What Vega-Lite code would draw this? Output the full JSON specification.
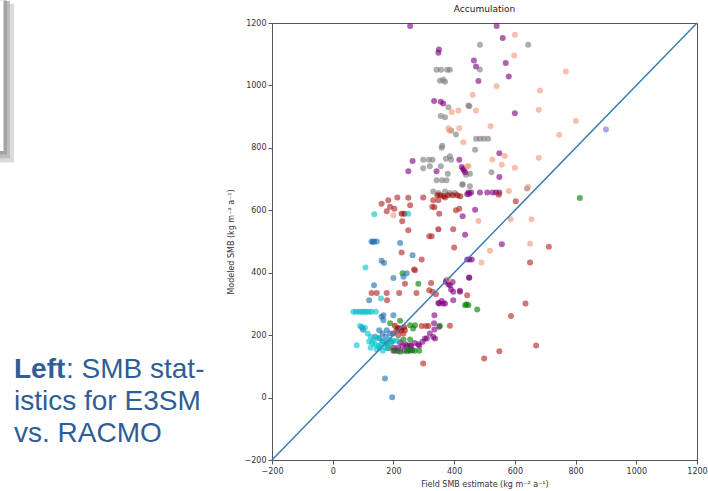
{
"$schema":"https://vega.github.io/schema/vega-lite/v6.json",
"padding":0,
"bounds":"flush",
"spacing":0,
"background":"white",
"config":{"view":{"stroke":null}},
"hconcat":[
{
"width":272,"height":437,
"layer":[
{"data":{"values":[{"item":"shadow"}]},"mark":{"type":"rect","fill":"#dadada"},
 "encoding":{"x":{"datum":0,"type":"quantitative","scale":{"domain":[0,272],"nice":false,"zero":false},"axis":null},"x2":{"datum":14},"y":{"datum":-10.7,"type":"quantitative","scale":{"domain":[-10.109,3.547],"reverse":true,"nice":false,"zero":false},"axis":null},"y2":{"datum":-5.75}}},
{"data":{"values":[{"item":"shadow"}]},"mark":{"type":"rect","fill":"#bdbdbd"},
 "encoding":{"x":{"datum":0,"type":"quantitative"},"x2":{"datum":10},"y":{"datum":-10.8,"type":"quantitative"},"y2":{"datum":-5.88}}},
{"data":{"values":[{"item":"box"}]},"mark":{"type":"rect","fill":"#a3a3a3"},
 "encoding":{"x":{"datum":0,"type":"quantitative"},"x2":{"datum":7},"y":{"datum":-10.812,"type":"quantitative"},"y2":{"datum":-6.0}}},
{"data":{"values":[{"item":"box"}]},"mark":{"type":"rect","fill":"white"},
 "encoding":{"x":{"datum":0,"type":"quantitative"},"x2":{"datum":3.5},"y":{"datum":-10.812,"type":"quantitative"},"y2":{"datum":-6.11}}},
{"data":{"values":[{"line":1,"text":"Left"}]},"mark":{"type":"text","align":"left","baseline":"alphabetic","font":"Liberation Sans","fontSize":28,"fontWeight":"bold","color":"#2f5d96"},
 "encoding":{"x":{"datum":14,"type":"quantitative"},"y":{"field":"line","type":"quantitative"},"text":{"field":"text"}}},
{"data":{"values":[{"line":1,"text":": SMB stat-"}]},"mark":{"type":"text","align":"left","baseline":"alphabetic","font":"Liberation Sans","fontSize":28,"color":"#2f5d96","dx":52},
 "encoding":{"x":{"datum":14,"type":"quantitative"},"y":{"field":"line","type":"quantitative"},"text":{"field":"text"}}},
{"data":{"values":[{"line":2,"text":"istics for E3SM"},{"line":3,"text":"vs. RACMO"}]},"mark":{"type":"text","align":"left","baseline":"alphabetic","font":"Liberation Sans","fontSize":28,"color":"#2f5d96"},
 "encoding":{"x":{"datum":14,"type":"quantitative"},"y":{"field":"line","type":"quantitative"},"text":{"field":"text"}}}
]
},
{
"width":425,"height":437,
"title":{"text":"Accumulation","fontSize":9,"font":"DejaVu Sans","fontWeight":"normal","color":"#222","offset":5},
"view":{"stroke":"#555","strokeWidth":1},
"layer":[
{"data":{"values":[
{"x":342,"y":1050,"g":"gray"},{"x":357,"y":1050,"g":"gray"},{"x":377,"y":1050,"g":"gray"},{"x":386,"y":1050,"g":"gray"},
{"x":353,"y":1015,"g":"gray"},{"x":370,"y":1012,"g":"gray"},{"x":364,"y":1018,"g":"gray"},
{"x":381,"y":930,"g":"gray"},{"x":450,"y":933,"g":"gray"},{"x":356,"y":902,"g":"gray"},{"x":370,"y":898,"g":"gray"},
{"x":390,"y":856,"g":"gray"},{"x":406,"y":843,"g":"gray"},{"x":359,"y":800,"g":"gray"},{"x":361,"y":807,"g":"gray"},
{"x":298,"y":762,"g":"gray"},{"x":317,"y":762,"g":"gray"},{"x":329,"y":762,"g":"gray"},{"x":298,"y":735,"g":"gray"},{"x":320,"y":741,"g":"gray"},
{"x":356,"y":741,"g":"gray"},{"x":373,"y":765,"g":"gray"},{"x":386,"y":773,"g":"gray"},{"x":390,"y":762,"g":"gray"},{"x":379,"y":717,"g":"gray"},
{"x":342,"y":696,"g":"gray"},{"x":360,"y":696,"g":"gray"},{"x":375,"y":696,"g":"gray"},{"x":452,"y":717,"g":"gray"},{"x":427,"y":683,"g":"gray"},
{"x":331,"y":660,"g":"gray"},{"x":348,"y":655,"g":"gray"},{"x":370,"y":660,"g":"gray"},{"x":386,"y":655,"g":"gray"},{"x":403,"y":655,"g":"gray"},
{"x":485,"y":1130,"g":"gray"},{"x":644,"y":1130,"g":"gray"},{"x":485,"y":1051,"g":"gray"},
{"x":472,"y":829,"g":"gray"},{"x":485,"y":829,"g":"gray"},{"x":498,"y":829,"g":"gray"},{"x":512,"y":829,"g":"gray"},
{"x":469,"y":794,"g":"gray"},{"x":439,"y":714,"g":"gray"},{"x":523,"y":722,"g":"gray"},{"x":428,"y":683,"g":"gray"},{"x":452,"y":677,"g":"gray"},{"x":640,"y":670,"g":"gray"},{"x":447,"y":936,"g":"gray"},
{"x":255,"y":1190,"g":"purple"},{"x":350,"y":1115,"g":"purple"},{"x":348,"y":1105,"g":"purple"},{"x":334,"y":950,"g":"purple"},{"x":356,"y":948,"g":"purple"},{"x":364,"y":942,"g":"purple"},
{"x":263,"y":758,"g":"purple"},{"x":249,"y":725,"g":"purple"},{"x":342,"y":725,"g":"purple"},{"x":417,"y":762,"g":"purple"},{"x":430,"y":733,"g":"purple"},{"x":436,"y":722,"g":"purple"},
{"x":540,"y":1190,"g":"purple"},{"x":560,"y":1152,"g":"purple"},{"x":465,"y":1080,"g":"purple"},{"x":472,"y":1061,"g":"purple"},{"x":570,"y":1072,"g":"purple"},{"x":480,"y":1014,"g":"purple"},{"x":580,"y":1029,"g":"purple"},
{"x":600,"y":911,"g":"purple"},{"x":549,"y":783,"g":"purple"},{"x":425,"y":739,"g":"purple"},{"x":432,"y":728,"g":"purple"},{"x":549,"y":707,"g":"purple"},
{"x":443,"y":651,"g":"purple"},{"x":450,"y":653,"g":"purple"},{"x":447,"y":657,"g":"purple"},{"x":456,"y":657,"g":"purple"},{"x":485,"y":657,"g":"purple"},{"x":509,"y":657,"g":"purple"},{"x":527,"y":657,"g":"purple"},{"x":538,"y":657,"g":"purple"},{"x":549,"y":657,"g":"purple"},
{"x":469,"y":602,"g":"purple"},{"x":428,"y":581,"g":"purple"},{"x":436,"y":522,"g":"purple"},{"x":557,"y":491,"g":"purple"},{"x":450,"y":442,"g":"purple"},{"x":458,"y":442,"g":"purple"},{"x":443,"y":442,"g":"purple"},{"x":450,"y":384,"g":"purple"},{"x":419,"y":342,"g":"purple"},
{"x":373,"y":371,"g":"purple"},{"x":386,"y":360,"g":"purple"},{"x":390,"y":346,"g":"purple"},{"x":397,"y":339,"g":"purple"},{"x":419,"y":339,"g":"purple"},{"x":375,"y":376,"g":"purple"},{"x":381,"y":363,"g":"purple"},{"x":395,"y":370,"g":"purple"},
{"x":359,"y":309,"g":"purple"},{"x":348,"y":303,"g":"purple"},{"x":364,"y":301,"g":"purple"},{"x":351,"y":301,"g":"purple"},{"x":370,"y":301,"g":"purple"},{"x":397,"y":312,"g":"purple"},{"x":449,"y":385,"g":"purple"},
{"x":334,"y":238,"g":"purple"},{"x":351,"y":227,"g":"purple"},{"x":335,"y":264,"g":"purple"},{"x":320,"y":205,"g":"purple"},{"x":331,"y":194,"g":"purple"},{"x":337,"y":189,"g":"purple"},{"x":304,"y":189,"g":"purple"},{"x":335,"y":218,"g":"purple"},{"x":310,"y":189,"g":"purple"},{"x":296,"y":179,"g":"purple"},{"x":282,"y":171,"g":"purple"},
{"x":222,"y":177,"g":"purple"},{"x":240,"y":170,"g":"purple"},{"x":255,"y":168,"g":"purple"},{"x":270,"y":175,"g":"purple"},{"x":285,"y":166,"g":"purple"},
{"x":200,"y":160,"g":"purple"},{"x":215,"y":160,"g":"purple"},{"x":230,"y":165,"g":"purple"},{"x":245,"y":165,"g":"purple"},{"x":258,"y":165,"g":"purple"},{"x":200,"y":150,"g":"purple"},{"x":215,"y":150,"g":"purple"},{"x":235,"y":150,"g":"purple"},{"x":262,"y":152,"g":"purple"},
{"x":230,"y":398,"g":"green"},{"x":282,"y":365,"g":"green"},{"x":441,"y":299,"g":"green"},{"x":447,"y":296,"g":"green"},{"x":436,"y":296,"g":"green"},{"x":476,"y":282,"g":"green"},{"x":814,"y":639,"g":"green"},
{"x":189,"y":238,"g":"green"},{"x":222,"y":246,"g":"green"},{"x":255,"y":232,"g":"green"},{"x":271,"y":232,"g":"green"},{"x":265,"y":221,"g":"green"},{"x":353,"y":230,"g":"green"},
{"x":178,"y":173,"g":"green"},{"x":183,"y":158,"g":"green"},{"x":233,"y":186,"g":"green"},{"x":255,"y":186,"g":"green"},
{"x":205,"y":150,"g":"green"},{"x":222,"y":147,"g":"green"},{"x":245,"y":148,"g":"green"},{"x":255,"y":150,"g":"green"},{"x":270,"y":150,"g":"green"},{"x":285,"y":150,"g":"green"},{"x":250,"y":153,"g":"green"},
{"x":161,"y":621,"g":"red"},{"x":183,"y":632,"g":"red"},{"x":213,"y":641,"g":"red"},{"x":249,"y":640,"g":"red"},{"x":255,"y":616,"g":"red"},{"x":178,"y":597,"g":"red"},{"x":203,"y":605,"g":"red"},{"x":189,"y":611,"g":"red"},
{"x":229,"y":565,"g":"red"},{"x":249,"y":536,"g":"red"},{"x":348,"y":539,"g":"darkred"},{"x":326,"y":517,"g":"red"},{"x":318,"y":517,"g":"red"},{"x":397,"y":539,"g":"red"},{"x":400,"y":481,"g":"red"},
{"x":227,"y":465,"g":"red"},{"x":293,"y":442,"g":"red"},{"x":268,"y":410,"g":"red"},{"x":331,"y":632,"g":"red"},{"x":335,"y":610,"g":"red"},{"x":406,"y":600,"g":"red"},{"x":417,"y":605,"g":"red"},
{"x":298,"y":641,"g":"red"},{"x":328,"y":611,"g":"red"},{"x":348,"y":632,"g":"red"},{"x":351,"y":589,"g":"red"},{"x":370,"y":641,"g":"red"},
{"x":547,"y":650,"g":"red"},{"x":603,"y":629,"g":"red"},{"x":650,"y":433,"g":"red"},{"x":712,"y":483,"g":"red"},{"x":443,"y":328,"g":"red"},{"x":635,"y":301,"g":"red"},{"x":587,"y":261,"g":"red"},{"x":670,"y":167,"g":"red"},{"x":549,"y":148,"g":"red"},{"x":499,"y":125,"g":"red"},
{"x":271,"y":408,"g":"red"},{"x":238,"y":365,"g":"red"},{"x":324,"y":367,"g":"red"},{"x":128,"y":335,"g":"red"},{"x":145,"y":335,"g":"red"},{"x":178,"y":335,"g":"red"},{"x":219,"y":335,"g":"red"},{"x":276,"y":335,"g":"red"},{"x":179,"y":312,"g":"red"},
{"x":318,"y":344,"g":"red"},{"x":329,"y":339,"g":"red"},{"x":340,"y":331,"g":"red"},{"x":386,"y":230,"g":"red"},{"x":293,"y":229,"g":"red"},{"x":307,"y":229,"g":"red"},{"x":315,"y":229,"g":"red"},
{"x":238,"y":216,"g":"red"},{"x":233,"y":205,"g":"red"},{"x":216,"y":200,"g":"red"},{"x":194,"y":179,"g":"red"},{"x":199,"y":205,"g":"red"},{"x":210,"y":215,"g":"red"},{"x":220,"y":222,"g":"red"},{"x":298,"y":109,"g":"red"},
{"x":345,"y":648,"g":"darkred"},{"x":355,"y":648,"g":"darkred"},{"x":365,"y":645,"g":"darkred"},{"x":380,"y":648,"g":"darkred"},{"x":395,"y":648,"g":"darkred"},{"x":410,"y":648,"g":"darkred"},{"x":420,"y":645,"g":"darkred"},
{"x":227,"y":589,"g":"darkred"},{"x":236,"y":589,"g":"darkred"},{"x":205,"y":230,"g":"darkred"},{"x":215,"y":222,"g":"darkred"},{"x":225,"y":215,"g":"darkred"},{"x":235,"y":225,"g":"darkred"},
{"x":392,"y":915,"g":"peach"},{"x":414,"y":920,"g":"peach"},{"x":381,"y":863,"g":"peach"},{"x":417,"y":863,"g":"peach"},{"x":430,"y":818,"g":"peach"},{"x":447,"y":741,"g":"peach"},{"x":200,"y":584,"g":"peach"},{"x":381,"y":378,"g":"peach"},
{"x":600,"y":1162,"g":"peach"},{"x":598,"y":1096,"g":"peach"},{"x":768,"y":1045,"g":"peach"},{"x":540,"y":997,"g":"peach"},{"x":683,"y":984,"g":"peach"},{"x":461,"y":970,"g":"peach"},{"x":472,"y":920,"g":"peach"},{"x":679,"y":922,"g":"peach"},
{"x":801,"y":886,"g":"peach"},{"x":520,"y":869,"g":"peach"},{"x":385,"y":855,"g":"peach"},{"x":746,"y":842,"g":"peach"},{"x":567,"y":774,"g":"peach"},{"x":526,"y":763,"g":"peach"},{"x":679,"y":768,"g":"peach"},{"x":557,"y":746,"g":"peach"},
{"x":600,"y":736,"g":"peach"},{"x":443,"y":741,"g":"peach"},{"x":644,"y":675,"g":"peach"},{"x":580,"y":662,"g":"peach"},{"x":480,"y":566,"g":"peach"},{"x":586,"y":571,"g":"peach"},{"x":655,"y":571,"g":"peach"},{"x":518,"y":470,"g":"peach"},{"x":490,"y":433,"g":"peach"},{"x":650,"y":493,"g":"peach"},
{"x":128,"y":500,"g":"blue"},{"x":136,"y":500,"g":"blue"},{"x":145,"y":500,"g":"blue"},{"x":132,"y":498,"g":"blue"},{"x":222,"y":495,"g":"blue"},{"x":161,"y":438,"g":"blue"},{"x":169,"y":431,"g":"blue"},{"x":263,"y":456,"g":"blue"},
{"x":200,"y":383,"g":"blue"},{"x":244,"y":398,"g":"blue"},{"x":136,"y":360,"g":"blue"},{"x":161,"y":259,"g":"blue"},{"x":167,"y":248,"g":"blue"},{"x":200,"y":264,"g":"blue"},{"x":153,"y":216,"g":"blue"},{"x":164,"y":205,"g":"blue"},
{"x":178,"y":216,"g":"blue"},{"x":189,"y":205,"g":"blue"},{"x":172,"y":61,"g":"blue"},{"x":196,"y":1,"g":"blue"},{"x":233,"y":387,"g":"blue"},{"x":120,"y":312,"g":"blue"},{"x":96,"y":225,"g":"blue"},{"x":100,"y":217,"g":"blue"},
{"x":167,"y":264,"g":"blue"},{"x":155,"y":190,"g":"blue"},{"x":165,"y":180,"g":"blue"},{"x":140,"y":195,"g":"blue"},{"x":175,"y":195,"g":"blue"},
{"x":137,"y":587,"g":"cyan"},{"x":249,"y":589,"g":"cyan"},{"x":108,"y":417,"g":"cyan"},
{"x":68,"y":275,"g":"cyan"},{"x":76,"y":275,"g":"cyan"},{"x":84,"y":275,"g":"cyan"},{"x":92,"y":275,"g":"cyan"},{"x":99,"y":275,"g":"cyan"},{"x":106,"y":275,"g":"cyan"},{"x":112,"y":275,"g":"cyan"},{"x":120,"y":275,"g":"cyan"},{"x":128,"y":275,"g":"cyan"},{"x":142,"y":275,"g":"cyan"},
{"x":159,"y":317,"g":"cyan"},{"x":90,"y":229,"g":"cyan"},{"x":106,"y":224,"g":"cyan"},{"x":79,"y":168,"g":"cyan"},
{"x":120,"y":180,"g":"cyan"},{"x":130,"y":175,"g":"cyan"},{"x":140,"y":170,"g":"cyan"},{"x":150,"y":165,"g":"cyan"},{"x":160,"y":172,"g":"cyan"},{"x":170,"y":180,"g":"cyan"},{"x":180,"y":168,"g":"cyan"},{"x":190,"y":175,"g":"cyan"},
{"x":125,"y":160,"g":"cyan"},{"x":145,"y":155,"g":"cyan"},{"x":155,"y":160,"g":"cyan"},{"x":165,"y":150,"g":"cyan"},{"x":135,"y":185,"g":"cyan"},{"x":150,"y":190,"g":"cyan"},{"x":175,"y":160,"g":"cyan"},{"x":185,"y":185,"g":"cyan"},
{"x":200,"y":182,"g":"cyan"},{"x":211,"y":182,"g":"cyan"},{"x":125,"y":195,"g":"cyan"},{"x":115,"y":205,"g":"cyan"},
{"x":900,"y":859,"g":"lavender"}
]},
"mark":{"type":"circle","size":36,"opacity":0.62},
"encoding":{
 "x":{"field":"x","type":"quantitative","scale":{"domain":[-200,1200],"nice":false,"zero":false},
   "axis":{"title":"Field SMB estimate (kg m⁻² a⁻¹)","format":"d","values":[-200,0,200,400,600,800,1000,1200],"grid":false,"labelFlush":false,"labelOverlap":false,"labelFontSize":8,"labelFont":"DejaVu Sans","titleFont":"DejaVu Sans","titleFontSize":8,"titleFontWeight":"normal","tickSize":4,"domainColor":"#555","tickColor":"#555","labelColor":"#333","titleColor":"#333","labelPadding":3,"titlePadding":5}},
 "y":{"field":"y","type":"quantitative","scale":{"domain":[-200,1200],"nice":false,"zero":false},
   "axis":{"title":"Modeled SMB (kg m⁻² a⁻¹)","format":"d","values":[-200,0,200,400,600,800,1000,1200],"grid":false,"labelFlush":false,"labelOverlap":false,"labelFontSize":8,"labelFont":"DejaVu Sans","titleFont":"DejaVu Sans","titleFontSize":8,"titleFontWeight":"normal","tickSize":4,"domainColor":"#555","tickColor":"#555","labelColor":"#333","titleColor":"#333","labelPadding":2,"titlePadding":9}},
 "color":{"field":"g","type":"nominal","legend":null,
   "scale":{"domain":["gray","purple","peach","red","darkred","blue","cyan","green","lavender"],"range":["#7a7a7a","#800080","#f09a78","#b22222","#9a0000","#1f6fb0","#00c4d0","#008000","#7b68ee"]}}
}},
{"data":{"values":[{"x":-200,"y":-200},{"x":1200,"y":1200}]},
 "mark":{"type":"line","color":"#3a7db5","strokeWidth":1.5},
 "encoding":{"x":{"field":"x","type":"quantitative"},"y":{"field":"y","type":"quantitative"}}}
]
}
]
}
